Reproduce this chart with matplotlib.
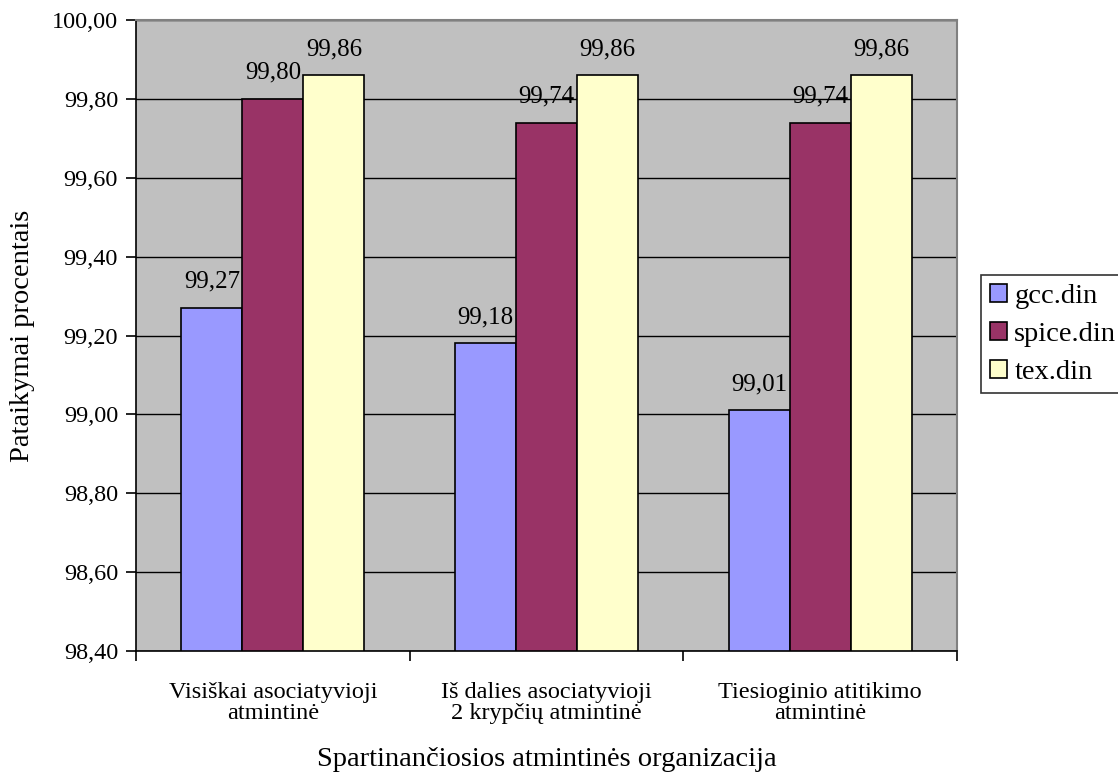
import matplotlib.pyplot as plt
import numpy as np

plt.rcParams['font.family'] = ['Liberation Serif', 'DejaVu Serif']

categories = ['Visiškai asociatyvioji\natmintinė',
              'Iš dalies asociatyvioji\n2 krypčių atmintinė',
              'Tiesioginio atitikimo\natmintinė']
series = ['gcc.din', 'spice.din', 'tex.din']
gcc = [99.27, 99.18, 99.01]
spice = [99.80, 99.74, 99.74]
tex = [99.86, 99.86, 99.86]
colors = ['#9999FF', '#993366', '#FFFFCC']
yticks = [98.40, 98.60, 98.80, 99.00, 99.20, 99.40, 99.60, 99.80, 100.00]

fig = plt.figure(figsize=(11.18, 7.78), dpi=100)
ax = fig.add_axes([0.1217, 0.1632, 0.7343, 0.811])
ax.set_facecolor('#C0C0C0')

x = np.arange(len(categories))
w = 0.223
base = 98.40
for i, (name, vals) in enumerate(zip(series, [gcc, spice, tex])):
    pos = x + (i - 1) * w
    heights = [v - base for v in vals]
    ax.bar(pos, heights, w, bottom=base, color=colors[i], edgecolor='black',
           linewidth=1.2, label=name, zorder=3)
    for p, v in zip(pos, vals):
        ax.annotate(('%.2f' % v).replace('.', ','), (p, v), xytext=(0, 11),
                    textcoords='offset points', ha='center', va='bottom',
                    fontsize=18)

ax.set_xlim(-0.5, 2.5)
ax.set_ylim(98.40, 100.00)
ax.set_yticks(yticks)
ax.set_yticklabels([('%.2f' % t).replace('.', ',') for t in yticks], fontsize=17.5)
ax.yaxis.grid(True, color='black', linewidth=1.0, zorder=1)
ax.set_axisbelow(True)

ax.set_xticks([-0.5, 0.5, 1.5, 2.5])
ax.set_xticklabels([])
ax.set_xticks(x, minor=True)
ax.set_xticklabels(categories, minor=True, fontsize=17.5, linespacing=1.05)
ax.tick_params(axis='x', which='minor', length=0, pad=22)
ax.tick_params(axis='both', which='major', direction='out', length=7, width=1.2)
ax.tick_params(axis='y', pad=6)

for s in ['left', 'bottom']:
    ax.spines[s].set_linewidth(1.2)
for s in ['top', 'right']:
    ax.spines[s].set_color('#808080')
    ax.spines[s].set_linewidth(1.5)

ax.set_ylabel('Pataikymai procentais', fontsize=20.5, labelpad=12)
ax.set_xlabel('Spartinančiosios atmintinės organizacija', fontsize=20.5, labelpad=16)

leg = fig.legend(loc='upper left', bbox_to_anchor=(0.8775, 0.6465), fontsize=20.5,
                 frameon=True, fancybox=False, edgecolor='black',
                 handlelength=0.62, handleheight=0.62, handletextpad=0.25,
                 borderpad=0.3, labelspacing=0.45, borderaxespad=0)
leg.get_frame().set_linewidth(1.2)

fig.savefig('out.png', dpi=100)
